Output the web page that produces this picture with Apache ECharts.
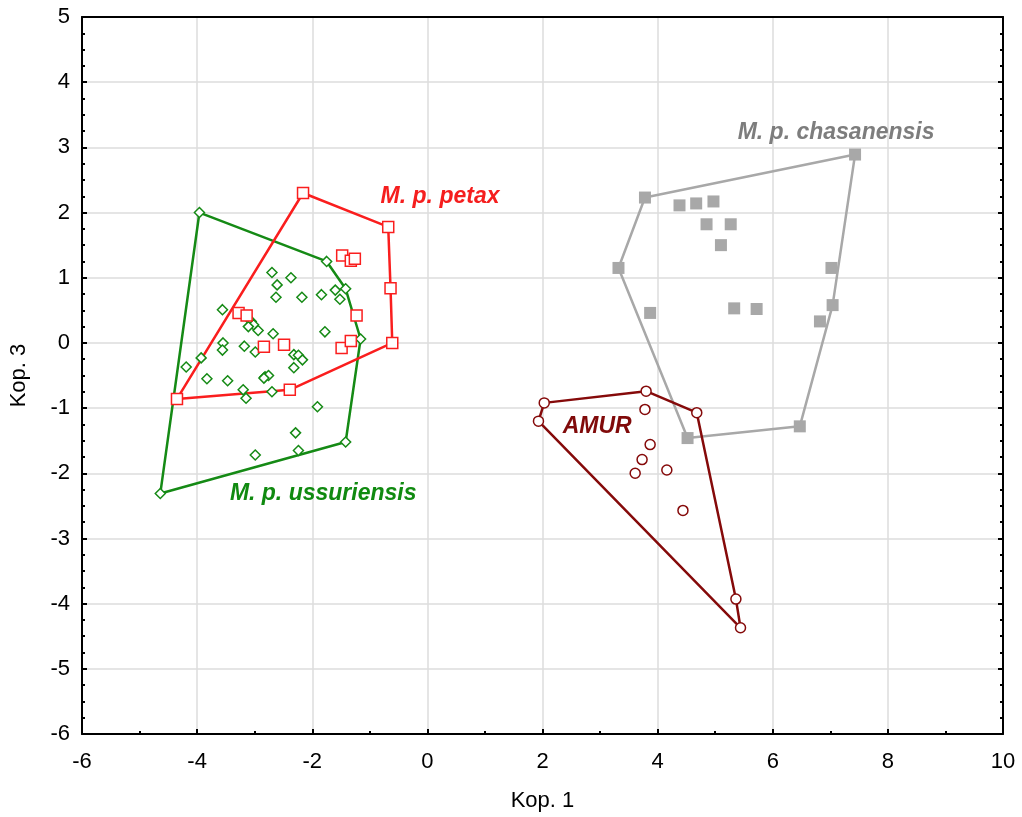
<!DOCTYPE html>
<html>
<head>
<meta charset="utf-8">
<script src="https://cdn.jsdelivr.net/npm/echarts@6/dist/echarts.min.js"></script>
<style>
    html, body { margin: 0; padding: 0; background: #fff; }
    #chart { width: 1022px; height: 817px; }
</style>
</head>
<body>
<div id="chart"></div>
<script>
// Данные: координаты особей по группам (Kop. 1, Kop. 3)
const petax = [
    [-2.16, 2.30], [-0.68, 1.78], [-0.64, 0.84], [-0.61, 0.00], [-4.35, -0.86],
    [-2.39, -0.72], [-1.48, 1.34], [-1.33, 1.26], [-1.26, 1.29], [-1.23, 0.42],
    [-3.28, 0.46], [-3.14, 0.42], [-2.84, -0.06], [-2.49, -0.03], [-1.49, -0.08],
    [-1.33, 0.03]
];
const ussuriensis = [
    [-3.96, 2.00], [-1.75, 1.25], [-1.42, 0.83], [-1.16, 0.06], [-1.42, -1.52],
    [-4.64, -2.31], [-3.56, 0.51], [-4.19, -0.37], [-2.70, 1.08], [-2.37, 1.00],
    [-2.61, 0.89], [-2.63, 0.70], [-2.18, 0.70], [-1.84, 0.74], [-1.60, 0.81],
    [-1.52, 0.67], [-3.06, 0.33], [-3.02, 0.28], [-3.11, 0.25], [-2.94, 0.19],
    [-2.68, 0.14], [-1.78, 0.17], [-3.55, 0.00], [-3.56, -0.11], [-3.18, -0.05],
    [-2.99, -0.14], [-3.93, -0.23], [-2.32, -0.18], [-2.24, -0.19], [-2.17, -0.26],
    [-2.32, -0.38], [-3.83, -0.55], [-3.47, -0.58], [-2.82, -0.52], [-2.76, -0.50],
    [-2.84, -0.54], [-3.20, -0.72], [-3.15, -0.85], [-2.70, -0.75], [-1.91, -0.98],
    [-2.29, -1.38], [-2.24, -1.65], [-2.99, -1.72]
];
const chasanensis = [
    [7.43, 2.89], [3.78, 2.23], [4.38, 2.11], [4.67, 2.14], [4.97, 2.17],
    [4.85, 1.82], [5.27, 1.82], [5.10, 1.50], [3.32, 1.15], [7.02, 1.15],
    [7.04, 0.58], [6.82, 0.33], [3.87, 0.46], [5.33, 0.53], [5.72, 0.52],
    [6.47, -1.28], [4.52, -1.46]
];
const amur = [
    [2.03, -0.92], [1.93, -1.20], [3.80, -0.74], [3.78, -1.02], [4.68, -1.07],
    [3.87, -1.56], [3.73, -1.79], [3.61, -2.00], [4.16, -1.95], [4.44, -2.57],
    [5.36, -3.93], [5.44, -4.37]
];

// Подписи групп и их положение в координатах осей
const groupNames = ['M. p. petax', 'M. p. ussuriensis', 'M. p. chasanensis', 'AMUR'];
const groupLabelPos = [[0.22, 2.25], [-1.81, -2.32], [7.10, 3.22], [2.95, -1.29]];

// Оси
const xTicks = { min: -6, max: 10, interval: 2 };
const yTicks = { min: -6, max: 5, interval: 1 };

const COLORS = {
    petax: '#fa1e1e',
    ussuriensis: '#158a15',
    chasanensis: '#a8a8a8',
    amur: '#850a0a'
};
const LABEL_COLORS = ['#f51e1e', '#108a10', '#7d7d7d', '#800a0a'];

// Выпуклая оболочка (monotone chain), замкнутая
function convexHull(points) {
    const pts = points.slice().sort((a, b) => a[0] - b[0] || a[1] - b[1]);
    const cross = (o, a, b) => (a[0] - o[0]) * (b[1] - o[1]) - (a[1] - o[1]) * (b[0] - o[0]);
    const lower = [];
    for (const p of pts) {
        while (lower.length >= 2 && cross(lower[lower.length - 2], lower[lower.length - 1], p) <= 0) lower.pop();
        lower.push(p);
    }
    const upper = [];
    for (let i = pts.length - 1; i >= 0; i--) {
        const p = pts[i];
        while (upper.length >= 2 && cross(upper[upper.length - 2], upper[upper.length - 1], p) <= 0) upper.pop();
        upper.push(p);
    }
    upper.pop();
    lower.pop();
    const hull = lower.concat(upper);
    hull.push(hull[0]);
    return hull;
}

function hullSeries(points, color) {
    return {
        type: 'line',
        data: convexHull(points),
        symbol: 'none',
        silent: true,
        z: 2,
        lineStyle: { color: color, width: 2.5 },
        animation: false
    };
}

function scatterSeries(name, points, symbol, size, color, filled) {
    return {
        name: name,
        type: 'scatter',
        data: points,
        symbol: symbol,
        symbolSize: size,
        z: 3,
        itemStyle: filled
            ? { color: color, opacity: 1 }
            : { color: '#fff', opacity: 1, borderColor: color, borderWidth: 1.5 },
        animation: false
    };
}

const chart = echarts.init(document.getElementById('chart'), null, { renderer: 'canvas' });

const axisLabelStyle = { color: '#000', fontSize: 22, fontFamily: 'Liberation Sans, Arial, sans-serif' };
const nameStyle = { color: '#000', fontSize: 22, fontFamily: 'Liberation Sans, Arial, sans-serif' };

const option = {
    backgroundColor: '#fff',
    animation: false,
    grid: { left: 82, right: 19, top: 17, bottom: 83, containLabel: false },
    xAxis: [
        {
            type: 'value',
            min: xTicks.min, max: xTicks.max, interval: xTicks.interval,
            name: 'Kop. 1', nameLocation: 'middle', nameGap: 56,
            nameTextStyle: nameStyle,
            axisLine: { show: true, onZero: false, lineStyle: { color: '#000', width: 2 } },
            axisTick: { show: true, inside: true, length: 5, lineStyle: { color: '#000', width: 2 } },
            minorTick: { show: true, splitNumber: 2, length: 3, lineStyle: { color: '#000', width: 2 } },
            axisLabel: Object.assign({ margin: 17 }, axisLabelStyle),
            splitLine: { show: true, lineStyle: { color: '#dcdcdc', width: 1.5 } }
        },
        {
            type: 'value', position: 'top',
            min: xTicks.min, max: xTicks.max, interval: xTicks.interval,
            axisLine: { show: true, onZero: false, lineStyle: { color: '#000', width: 2 } },
            axisTick: { show: false },
            axisLabel: { show: false },
            splitLine: { show: false }
        }
    ],
    yAxis: [
        {
            type: 'value',
            min: yTicks.min, max: yTicks.max, interval: yTicks.interval,
            name: 'Kop. 3', nameLocation: 'middle', nameGap: 52,
            nameTextStyle: nameStyle,
            axisLine: { show: true, onZero: false, lineStyle: { color: '#000', width: 2 } },
            axisTick: { show: true, inside: true, length: 5, lineStyle: { color: '#000', width: 2 } },
            minorTick: { show: true, splitNumber: 4, length: 3, lineStyle: { color: '#000', width: 2 } },
            axisLabel: Object.assign({ margin: 12 }, axisLabelStyle),
            splitLine: { show: true, lineStyle: { color: '#dcdcdc', width: 1.5 } }
        },
        {
            type: 'value', position: 'right',
            min: yTicks.min, max: yTicks.max, interval: yTicks.interval,
            axisLine: { show: true, onZero: false, lineStyle: { color: '#000', width: 2 } },
            axisTick: { show: true, inside: true, length: 5, lineStyle: { color: '#000', width: 2 } },
            minorTick: { show: true, splitNumber: 4, length: 3, lineStyle: { color: '#000', width: 2 } },
            axisLabel: { show: false },
            splitLine: { show: false }
        }
    ],
    series: [
        hullSeries(chasanensis, COLORS.chasanensis),
        hullSeries(amur, COLORS.amur),
        hullSeries(ussuriensis, COLORS.ussuriensis),
        hullSeries(petax, COLORS.petax),
        scatterSeries('M. p. chasanensis', chasanensis, 'rect', 12, COLORS.chasanensis, true),
        scatterSeries('AMUR', amur, 'circle', 10, COLORS.amur, false),
        scatterSeries('M. p. ussuriensis', ussuriensis, 'diamond', 10, COLORS.ussuriensis, false),
        scatterSeries('M. p. petax', petax, 'rect', 11, COLORS.petax, false),
        // Подписи групп
        {
            type: 'scatter',
            silent: true,
            z: 5,
            symbolSize: 0,
            itemStyle: { opacity: 1 },
            data: groupNames.map((name, i) => ({
                value: groupLabelPos[i],
                label: {
                    show: true,
                    position: 'inside',
                    formatter: name,
                    color: LABEL_COLORS[i],
                    opacity: 1,
                    fontSize: 23,
                    fontWeight: 'bold',
                    fontStyle: 'italic',
                    fontFamily: 'Liberation Sans, Arial, sans-serif'
                }
            })),
            animation: false
        }
    ]
};

chart.setOption(option);
</script>
</body>
</html>
